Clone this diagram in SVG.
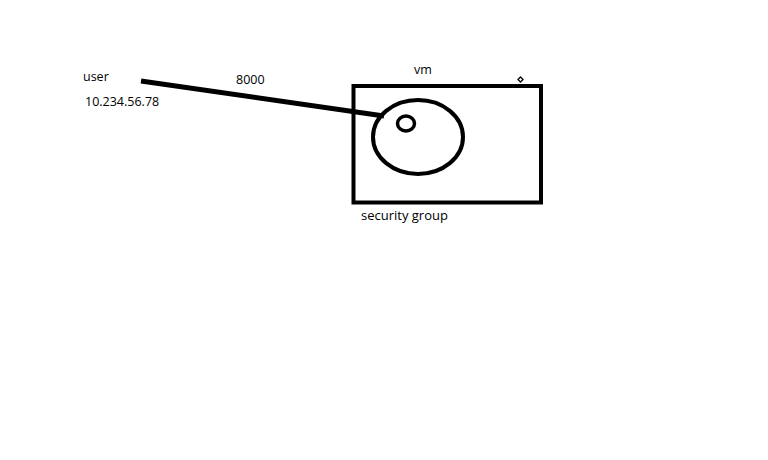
<svg xmlns="http://www.w3.org/2000/svg" width="768" height="460" viewBox="0 0 768 460">
<style>
.t{font-family:"Open Sans","DejaVu Sans",sans-serif;font-size:12.5px;fill:#000}
.s{fill:none;stroke:#000}
</style>
<rect width="768" height="460" fill="#fff"/>
<g id="user">
<text class="t" x="83" y="81">user</text>
<text class="t" x="85" y="106">10.234.56.78</text>
</g>
<g id="connectors">
<line class="s" x1="141" y1="81" x2="384" y2="116" stroke-width="5"/>
<text class="t" x="236" y="84">8000</text>
</g>
<g id="vm">
<rect class="s" x="353.5" y="86" width="187.5" height="116.5" stroke-width="4"/>
<text class="t" x="414" y="74">vm</text>
<path class="s" d="M520.5 77 L523 79.5 L520.5 82 L518 79.5 Z" stroke-width="1.3"/>
<text class="t" x="361" y="220" style="font-size:13px">security group</text>
</g>
<g id="security-group">
<ellipse class="s" cx="418" cy="137" rx="45" ry="37" stroke-width="4"/>
<ellipse class="s" cx="406" cy="123.5" rx="8.5" ry="7.5" stroke-width="3.5"/>
</g>
</svg>
